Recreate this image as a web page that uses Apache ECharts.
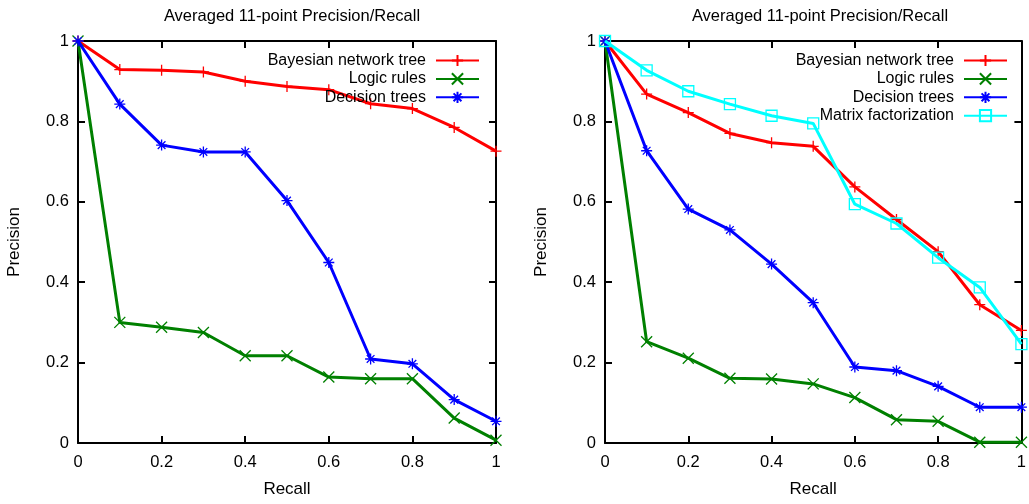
<!DOCTYPE html>
<html>
<head>
<meta charset="utf-8">
<script src="https://cdn.jsdelivr.net/npm/echarts@6/dist/echarts.min.js"></script>
<style>
html,body{margin:0;padding:0;background:#fff;}
#c{width:1029px;height:504px;}
</style>
</head>
<body>
<div id="c"></div>
<script>
// ---- data ----
const recall = [0, 0.1, 0.2, 0.3, 0.4, 0.5, 0.6, 0.7, 0.8, 0.9, 1.0];
const titleText = 'Averaged 11-point Precision/Recall';
const seriesNames = ['Bayesian network tree', 'Logic rules', 'Decision trees', 'Matrix factorization'];

// left chart
const leftBayes    = [1.0, 0.929, 0.927, 0.923, 0.900, 0.887, 0.879, 0.844, 0.832, 0.785, 0.726];
const leftLogic    = [1.0, 0.300, 0.288, 0.275, 0.217, 0.217, 0.164, 0.160, 0.160, 0.062, 0.007];
const leftDecision = [1.0, 0.843, 0.741, 0.724, 0.724, 0.603, 0.449, 0.209, 0.197, 0.108, 0.054];

// right chart
const rightBayes    = [1.0, 0.868, 0.822, 0.770, 0.747, 0.738, 0.637, 0.556, 0.476, 0.344, 0.280];
const rightLogic    = [1.0, 0.252, 0.211, 0.161, 0.159, 0.147, 0.113, 0.058, 0.054, 0.002, 0.002];
const rightDecision = [1.0, 0.727, 0.582, 0.530, 0.445, 0.349, 0.189, 0.180, 0.141, 0.089, 0.089];
const rightMatrix   = [1.0, 0.927, 0.875, 0.843, 0.814, 0.795, 0.594, 0.546, 0.461, 0.387, 0.246];

// ---- styling ----
const FONT = '"Liberation Sans", Arial, sans-serif';
const colors = ['#ff0000', '#008000', '#0000ff', '#00ffff'];
const symbols = [
  'path://M5,0L5,10M0,5L10,5',
  'path://M0,0L10,10M10,0L0,10',
  'path://M5,0L5,10M0,5L10,5M1.5,1.5L8.5,8.5M8.5,1.5L1.5,8.5',
  'path://M0,0L10,0L10,10L0,10Z'
];

function pairs(ys) { return recall.map((x, i) => [x, ys[i]]); }

function mkSeries(idx, ys, gi) {
  return {
    name: seriesNames[idx],
    type: 'line',
    xAxisIndex: gi * 2,
    yAxisIndex: gi * 2,
    data: pairs(ys),
    symbol: symbols[idx],
    symbolSize: 11,
    showAllSymbol: true,
    animation: false,
    color: colors[idx],
    lineStyle: { color: colors[idx], width: 3 },
    itemStyle: { color: 'rgba(0,0,0,0)', borderColor: colors[idx], borderWidth: 1.3 },
    emphasis: { disabled: true },
    z: 2 + idx
  };
}

const AX = { color: '#000', width: 2 };
function mainX(gi) {
  return {
    type: 'value', gridIndex: gi, min: 0, max: 1, interval: 0.2, position: 'bottom',
    name: 'Recall', nameLocation: 'middle', nameGap: 38,
    nameTextStyle: { fontFamily: FONT, fontSize: 17, color: '#000' },
    axisLine: { show: true, onZero: false, lineStyle: AX },
    axisTick: { show: true, inside: true, length: 7, lineStyle: AX },
    axisLabel: { fontFamily: FONT, fontSize: 16.5, color: '#000', margin: 11 },
    splitLine: { show: false }
  };
}
function topX(gi) {
  return {
    type: 'value', gridIndex: gi, min: 0, max: 1, interval: 0.2, position: 'top',
    axisLine: { show: true, onZero: false, lineStyle: AX },
    axisTick: { show: true, inside: true, length: 7, lineStyle: AX },
    axisLabel: { show: false }, splitLine: { show: false }
  };
}
function mainY(gi) {
  return {
    type: 'value', gridIndex: gi, min: 0, max: 1, interval: 0.2, position: 'left',
    name: 'Precision', nameLocation: 'middle', nameGap: 55, nameRotate: 90,
    nameTextStyle: { fontFamily: FONT, fontSize: 17, color: '#000' },
    axisLine: { show: true, onZero: false, lineStyle: AX },
    axisTick: { show: true, inside: true, length: 7, lineStyle: AX },
    axisLabel: { fontFamily: FONT, fontSize: 16.5, color: '#000', margin: 9 },
    splitLine: { show: false }
  };
}
function rightY(gi) {
  return {
    type: 'value', gridIndex: gi, min: 0, max: 1, interval: 0.2, position: 'right',
    axisLine: { show: true, onZero: false, lineStyle: AX },
    axisTick: { show: true, inside: true, length: 7, lineStyle: AX },
    axisLabel: { show: false }, splitLine: { show: false }
  };
}
function mkLegend(names, right) {
  return {
    data: names,
    orient: 'vertical',
    align: 'right',
    right: right,
    top: 52.5,
    padding: 0,
    itemWidth: 43,
    itemHeight: 14,
    itemGap: 2.4,
    selectedMode: false,
    textStyle: { fontFamily: FONT, fontSize: 16, color: '#000', padding: [0, 5, 0, 0] }
  };
}

const chart = echarts.init(document.getElementById('c'), null, { renderer: 'canvas' });
chart.setOption({
  backgroundColor: '#fff',
  animation: false,
  title: [
    { text: titleText, left: 287, top: 3, textAlign: 'center',
      textStyle: { fontFamily: FONT, fontSize: 16.5, fontWeight: 'normal', color: '#000' } },
    { text: titleText, left: 815, top: 3, textAlign: 'center',
      textStyle: { fontFamily: FONT, fontSize: 16.5, fontWeight: 'normal', color: '#000' } }
  ],
  grid: [
    { left: 78, right: 533, top: 41, bottom: 61 },
    { left: 605, right: 5, top: 41, bottom: 61 }
  ],
  xAxis: [mainX(0), topX(0), mainX(1), topX(1)],
  yAxis: [mainY(0), rightY(0), mainY(1), rightY(1)],
  legend: [
    mkLegend(seriesNames.slice(0, 3), 549),
    mkLegend(seriesNames.slice(0, 4), 21)
  ],
  series: [
    mkSeries(0, leftBayes, 0),
    mkSeries(1, leftLogic, 0),
    mkSeries(2, leftDecision, 0),
    mkSeries(0, rightBayes, 1),
    mkSeries(1, rightLogic, 1),
    mkSeries(2, rightDecision, 1),
    mkSeries(3, rightMatrix, 1)
  ]
});
</script>
</body>
</html>
